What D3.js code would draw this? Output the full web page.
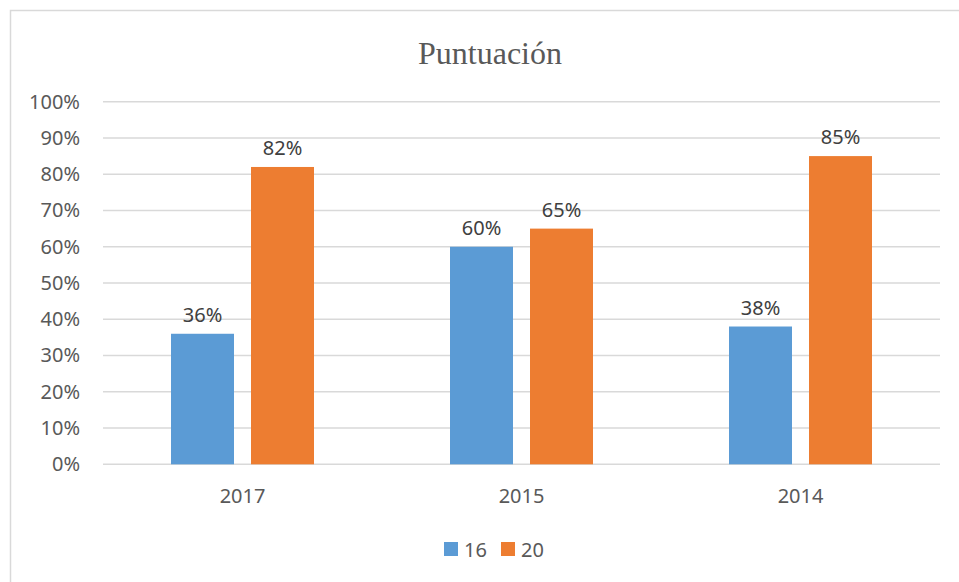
<!DOCTYPE html>
<html>
<head>
<meta charset="utf-8">
<script src="https://cdn.jsdelivr.net/npm/d3@7"></script>
<style>
  body { margin: 0; background: #fff; }
  text { font-family: "Noto Sans", "Open Sans", sans-serif; }
</style>
</head>
<body>
<div id="chart"></div>
<script>
// data
var categories = ["2017", "2015", "2014"];
var seriesNames = ["16", "20"];
var values16 = [0.36, 0.60, 0.38];
var values20 = [0.82, 0.65, 0.85];
var yTicks = [0, 0.1, 0.2, 0.3, 0.4, 0.5, 0.6, 0.7, 0.8, 0.9, 1];
var colors = ["#5b9bd5", "#ed7d31"];

var width = 959, height = 582;
var margin = {top: 101.7, right: 19, bottom: 117.7, left: 103};

var svg = d3.select("#chart")
  .append("svg")
    .attr("width", width)
    .attr("height", height);

// chart frame
svg.append("rect")
  .attr("x", 10.5)
  .attr("y", 10.5)
  .attr("width", 970)
  .attr("height", 600)
  .attr("fill", "#fff")
  .attr("stroke", "#d9d9d9")
  .attr("stroke-width", 1.5);

// title
svg.append("text")
  .attr("x", 490)
  .attr("y", 64)
  .attr("text-anchor", "middle")
  .style("font-family", "'Liberation Serif', 'Times New Roman', serif")
  .style("font-size", "32px")
  .attr("fill", "#595959")
  .text("Puntuación");

var x0 = d3.scaleBand()
  .domain(categories)
  .range([margin.left, width - margin.right]);

var x1 = d3.scaleBand()
  .domain(seriesNames)
  .range([0, x0.bandwidth()])
  .paddingInner(0.2125)
  .paddingOuter(0.85);

var y = d3.scaleLinear()
  .domain([0, 1])
  .range([height - margin.bottom, margin.top]);

var color = d3.scaleOrdinal().domain(seriesNames).range(colors);

// gridlines
svg.append("g")
  .selectAll("line")
  .data(yTicks)
  .enter()
  .append("line")
    .attr("x1", margin.left)
    .attr("x2", width - margin.right)
    .attr("y1", function(d) { return y(d); })
    .attr("y2", function(d) { return y(d); })
    .attr("stroke", "#d9d9d9")
    .attr("stroke-width", 1.5);

// y axis labels
var yAxis = svg.append("g")
  .attr("transform", "translate(" + (margin.left - 23) + ",0)")
  .call(d3.axisLeft(y).tickValues(yTicks).tickFormat(d3.format(".0%")).tickSize(0).tickPadding(0));
yAxis.select(".domain").remove();
yAxis.selectAll("text")
  .attr("fill", "#595959")
  .style("font-size", "20px")
  .style("font-family", "'Noto Sans', sans-serif");

// x axis labels
var xAxis = svg.append("g")
  .attr("transform", "translate(0," + (height - margin.bottom) + ")")
  .call(d3.axisBottom(x0).tickSize(0).tickPadding(25));
xAxis.select(".domain").remove();
xAxis.selectAll("text")
  .attr("fill", "#595959")
  .style("font-size", "20px")
  .style("font-family", "'Noto Sans', sans-serif");

var rows = categories.map(function(c, i) {
  return {cat: c, vals: [{name: "16", v: values16[i]}, {name: "20", v: values20[i]}]};
});

var groups = svg.selectAll("myGroups")
  .data(rows)
  .enter()
  .append("g")
    .attr("transform", function(d) { return "translate(" + x0(d.cat) + ",0)"; });

groups.selectAll("rect")
  .data(function(d) { return d.vals; })
  .enter()
  .append("rect")
    .attr("x", function(d) { return x1(d.name); })
    .attr("y", function(d) { return y(d.v); })
    .attr("width", x1.bandwidth())
    .attr("height", function(d) { return y(0) - y(d.v); })
    .attr("fill", function(d) { return color(d.name); });

groups.selectAll("text.val")
  .data(function(d) { return d.vals; })
  .enter()
  .append("text")
    .attr("class", "val")
    .attr("x", function(d) { return x1(d.name) + x1.bandwidth() / 2; })
    .attr("y", function(d) { return y(d.v) - 12; })
    .attr("text-anchor", "middle")
    .attr("fill", "#404040")
    .style("font-size", "20px")
    .text(function(d) { return d3.format(".0%")(d.v); });

// legend
var legend = svg.append("g")
  .attr("transform", "translate(444,542)");
var item = legend.selectAll("g")
  .data(seriesNames)
  .enter()
  .append("g")
    .attr("transform", function(d, i) { return "translate(" + (i * 57) + ",0)"; });
item.append("rect")
  .attr("width", 14)
  .attr("height", 14)
  .attr("fill", function(d) { return color(d); });
item.append("text")
  .attr("x", 20)
  .attr("y", 15)
  .attr("fill", "#595959")
  .style("font-size", "20px")
  .text(function(d) { return d; });
</script>
</body>
</html>
